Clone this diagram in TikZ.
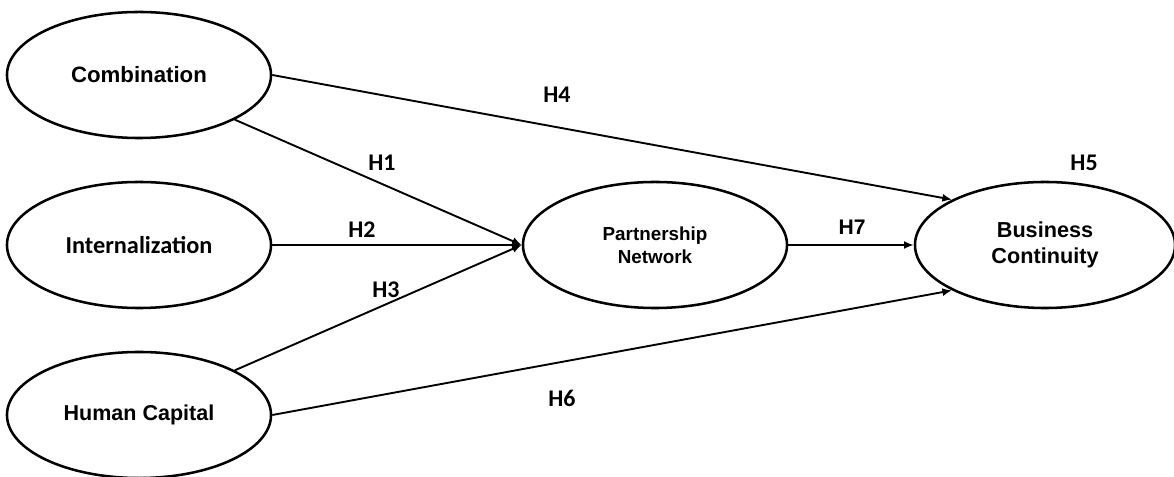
\documentclass[tikz,border=0pt]{standalone}
\usepackage{fontspec}
\setmainfont{Liberation Sans}
\newfontfamily\calfont{Carlito}
\usepackage{tikz}
\usetikzlibrary{shapes.geometric}
\usetikzlibrary{arrows.meta}
\tikzset{
    construct/.style={draw=black, ellipse, line width=1.8pt, inner sep=0pt,
        minimum width=6.6cm, minimum height=3.15cm, align=center,
        font=\bfseries\fontsize{15.8}{18}\selectfont},
    path/.style={draw=black, line width=1.35pt, -{Latex[length=2.4mm,width=2mm]}},
    hyp/.style={font=\calfont\bfseries\fontsize{17}{19}\selectfont},
}
\begin{document}
\begin{tikzpicture}[x=0.025cm, y=-0.025cm]
		\useasboundingbox (0,0) rectangle (1174,477);
		% constructs
		\node[construct] (comb) at (139,75) {Combination};
		\node[construct, font=\calfont\bfseries\fontsize{17.3}{19}\selectfont] (intern) at (139,245) {Internalization};
		\node[construct, font=\bfseries\fontsize{15.3}{17}\selectfont] (human) at (139,415) {Human Capital};
		\node[construct, font=\bfseries\fontsize{13.4}{16.5}\selectfont] (partner) at (655,245) {Partnership\\Network};
		\node[construct, minimum width=6.5cm, font=\bfseries\fontsize{15.4}{18.5}\selectfont] (busi) at (1045,245) {Business\\Continuity};
		% hypothesised paths
		\draw[path] (comb.-25) -- (partner.west);
		\draw[path] (intern.east) -- (partner.west);
		\draw[path] (human.25) -- (partner.west);
		\draw[path] (comb.east) -- (busi.154);
		\draw[path] (human.east) -- (busi.206);
		\draw[path] (partner.east) -- (busi.west);
		% labels
		\node[hyp] (h1) at (382,163) {H1};
		\node[hyp] (h2) at (362,230) {H2};
		\node[hyp] (h3) at (386,290) {H3};
		\node[hyp] (h4) at (557,95) {H4};
		\node[hyp] (h5) at (1084,163) {H5};
		\node[hyp] (h6) at (562,398) {H6};
		\node[font=\bfseries\fontsize{15}{17}\selectfont] (h7) at (852,227) {H7};
	 \end{tikzpicture}
\end{document}
